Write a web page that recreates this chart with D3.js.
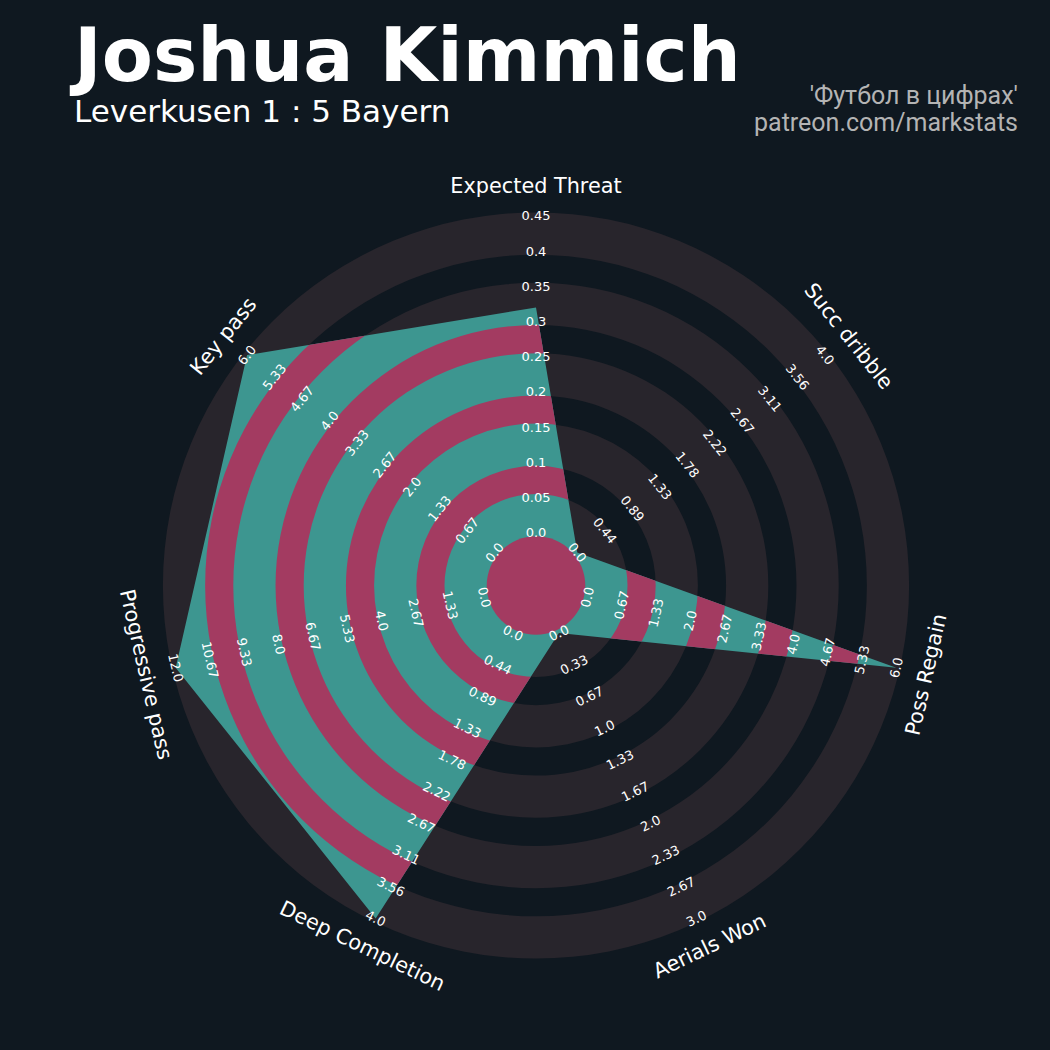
<!DOCTYPE html>
<html><head><meta charset="utf-8">
<script src="https://cdn.jsdelivr.net/npm/d3@7"></script>
<style>html,body{margin:0;padding:0;background:#0f1820;} svg{display:block}</style>
</head><body>
<svg id="chart" width="1050" height="1050"></svg>
<script>
const params = ["Expected Threat","Succ dribble","Poss Regain","Aerials Won","Deep Completion","Progressive pass","Key pass"];
const values = [0.32, 0, 6.0, 0, 4.0, 12.0, 6.0];
const lowRange = [0, 0, 0, 0, 0, 0, 0];
const highRange = [0.45, 4, 6, 3, 4, 12, 6];
const rangeLabels = [
  ["0.0","0.05","0.1","0.15","0.2","0.25","0.3","0.35","0.4","0.45"],
  ["0.0","0.44","0.89","1.33","1.78","2.22","2.67","3.11","3.56","4.0"],
  ["0.0","0.67","1.33","2.0","2.67","3.33","4.0","4.67","5.33","6.0"],
  ["0.0","0.33","0.67","1.0","1.33","1.67","2.0","2.33","2.67","3.0"],
  ["0.0","0.44","0.89","1.33","1.78","2.22","2.67","3.11","3.56","4.0"],
  ["0.0","1.33","2.67","4.0","5.33","6.67","8.0","9.33","10.67","12.0"],
  ["0.0","0.67","1.33","2.0","2.67","3.33","4.0","4.67","5.33","6.0"]
];
const titleText = "Joshua Kimmich";
const subtitleText = "Leverkusen 1 : 5 Bayern";
const creditLines = ["'Футбол в цифрах'", "patreon.com/markstats"];

const W = 1050, H = 1050, cx = 536, cy = 585.5;
const colors = {bg:"#0f1820", band:"#28252c", radar:"#3d9690", rings:"#a33b61", text:"#ffffff", credit:"#b4b4b4"};

const svg = d3.select("#chart");
svg.append("rect").attr("width", W).attr("height", H).attr("fill", colors.bg);

const unit = d3.scaleLinear().domain([0, 10.6]).range([0, 373.1]);
const n = params.length;
const angle = d3.scaleLinear().domain([0, n]).range([0, 2 * Math.PI]);
const valueScales = params.map((p, i) => d3.scaleLinear().domain([lowRange[i], highRange[i]]).range([unit(1.5), unit(10.5)]).clamp(true));

const g = svg.append("g").attr("transform", `translate(${cx},${cy})`);
const arc = d3.arc().startAngle(0).endAngle(2 * Math.PI);

// background bands
const bandEdges = [1, 2, 3, 4, 5].map(k => [2 * k - 0.6, 2 * k + 0.6]);
g.selectAll("path.band").data(bandEdges).join("path").attr("class", "band")
  .attr("d", d => arc({innerRadius: unit(d[0]), outerRadius: unit(d[1])}))
  .attr("fill", colors.band);

// radar polygon
const pts = values.map((v, i) => [angle(i), valueScales[i](v)]);
const radial = d3.lineRadial().angle(d => d[0]).radius(d => d[1]).curve(d3.curveLinearClosed);
svg.append("defs").append("clipPath").attr("id", "radarClip")
  .append("path").attr("d", radial(pts));
g.append("path").attr("d", radial(pts)).attr("fill", colors.radar);

const ringEdges = [[0, 1.4], [2.6, 3.4], [4.6, 5.4], [6.6, 7.4], [8.6, 9.4]];
g.append("g").attr("clip-path", "url(#radarClip)")
  .selectAll("path").data(ringEdges).join("path")
  .attr("d", d => arc({innerRadius: unit(d[0]), outerRadius: unit(d[1])}))
  .attr("fill", colors.rings);

function rot(a) {
  let deg = a * 180 / Math.PI;
  if (deg > 90 && deg < 270) return deg - 180;
  return deg > 180 ? deg - 360 : deg;
}
function pos(a, r) { return [r * Math.sin(a), -r * Math.cos(a)]; }

// range labels
params.forEach((p, i) => {
  const a = angle(i);
  const labs = rangeLabels[i];
  g.append("g").selectAll("text").data(labs).join("text")
    .attr("transform", (d, j) => {
      const [x, y] = pos(a, unit(1.5 + j));
      return `translate(${x},${y}) rotate(${rot(a)})`;
    })
    .attr("text-anchor", "middle").attr("dominant-baseline", "central")
    .attr("font-family", "DejaVu Sans").attr("font-size", 13)
    .attr("fill", colors.text).text(d => d);
});

// param labels
g.selectAll("text.param").data(params).join("text").attr("class", "param")
  .attr("transform", (d, i) => {
    const a = angle(i);
    const [x, y] = pos(a, 400);
    return `translate(${x},${y}) rotate(${rot(a)})`;
  })
  .attr("text-anchor", "middle").attr("dominant-baseline", "central")
  .attr("font-family", "DejaVu Sans").attr("font-size", 20.8)
  .attr("fill", colors.text).text(d => d);

// titles
svg.append("text").attr("x", 74).attr("y", 81).attr("font-family", "DejaVu Sans")
  .attr("font-weight", "bold").attr("font-size", 74.5).attr("fill", colors.text).text(titleText);
svg.append("text").attr("x", 74).attr("y", 122).attr("font-family", "DejaVu Sans")
  .attr("font-size", 31).attr("fill", colors.text).text(subtitleText);
svg.selectAll("text.credit").data(creditLines).join("text").attr("class", "credit")
  .attr("x", 1018).attr("y", (d, i) => 104 + i * 27)
  .attr("text-anchor", "end").attr("font-family", "Roboto").attr("font-size", 25)
  .attr("fill", colors.credit).text(d => d);
</script>
</body></html>
